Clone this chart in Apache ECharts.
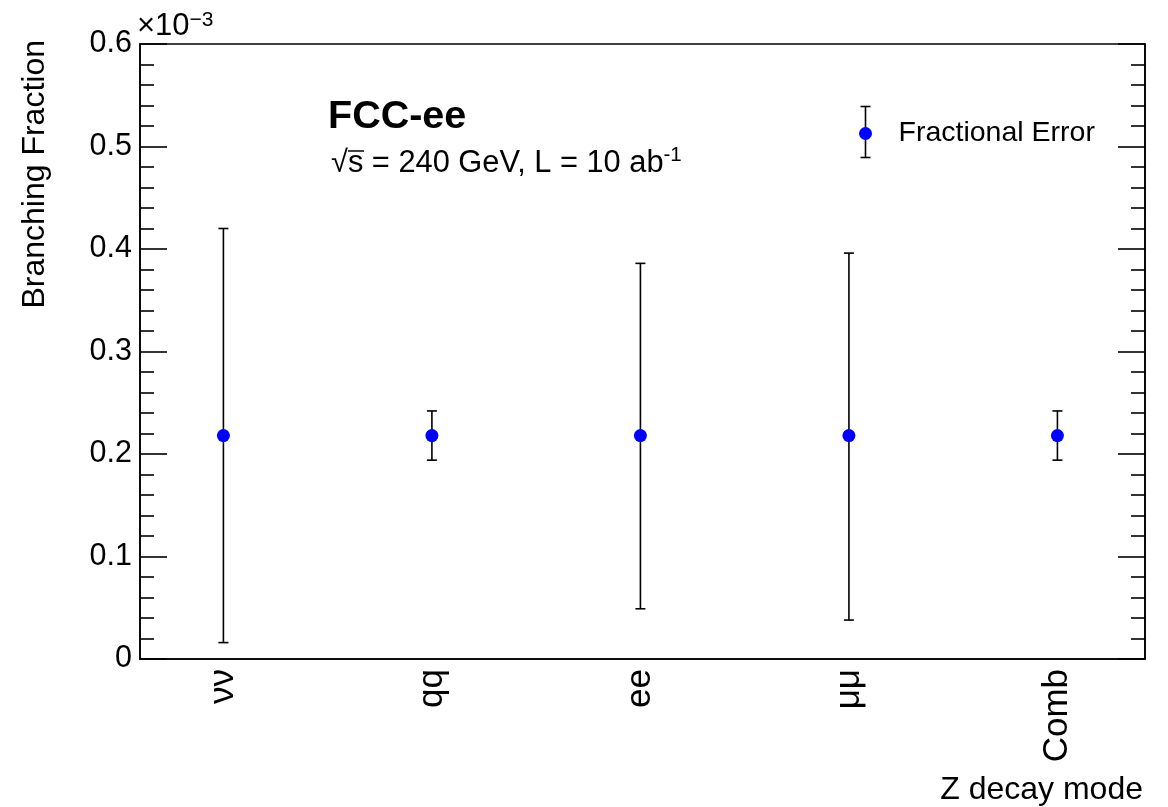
<!DOCTYPE html>
<html>
<head>
<meta charset="utf-8">
<script src="https://cdn.jsdelivr.net/npm/echarts@6/dist/echarts.min.js"></script>
<style>
html,body{margin:0;padding:0;background:#fff;}
#chart{width:1168px;height:807px;}
</style>
</head>
<body>
<div id="chart"></div>
<script>
// Data (values in units of 1e-3)
var categories = ['νν', 'qq', 'ee', 'μμ', 'Comb'];
var central = [0.218, 0.218, 0.218, 0.218, 0.218];
var upper = [0.420, 0.242, 0.386, 0.396, 0.242];
var lower = [0.016, 0.194, 0.049, 0.038, 0.194];
var yTicks = [0, 0.1, 0.2, 0.3, 0.4, 0.5, 0.6];

var FONT = '"Liberation Sans", Arial, Helvetica, sans-serif';

var chart = echarts.init(document.getElementById('chart'), null, {renderer: 'canvas'});

var pointData = central.map(function (v, i) { return [i, v]; });
var errData = central.map(function (v, i) { return [i, lower[i], upper[i]]; });

function renderErr(params, api) {
  var i = api.value(0);
  var lo = api.coord([i, api.value(1)]);
  var hi = api.coord([i, api.value(2)]);
  var cap = 5;
  var st = {stroke: '#000', lineWidth: 1.6};
  return {
    type: 'group',
    children: [
      {type: 'line', shape: {x1: lo[0], y1: lo[1], x2: hi[0], y2: hi[1]}, style: st},
      {type: 'line', shape: {x1: lo[0] - cap, y1: lo[1], x2: lo[0] + cap, y2: lo[1]}, style: st},
      {type: 'line', shape: {x1: hi[0] - cap, y1: hi[1], x2: hi[0] + cap, y2: hi[1]}, style: st}
    ]
  };
}

var yAxisCommon = {
  type: 'value',
  min: yTicks[0],
  max: yTicks[yTicks.length - 1],
  interval: 0.1,
  splitLine: {show: false},
  axisLine: {show: true, onZero: false, lineStyle: {color: '#000', width: 1.6}},
  axisTick: {show: true, inside: true, length: 27, lineStyle: {color: '#000', width: 1.6}},
  minorTick: {show: true, splitNumber: 5, length: 14, lineStyle: {color: '#000', width: 1.6}},
  minorSplitLine: {show: false}
};

var option = {
  backgroundColor: '#fff',
  animation: false,
  grid: {left: 140, right: 23, top: 44, bottom: 148, show: true, borderColor: '#000', borderWidth: 1.6, backgroundColor: 'transparent'},
  xAxis: {
    type: 'value',
    min: -0.40,
    max: 4.42,
    splitLine: {show: false},
    axisLine: {show: true, onZero: false, lineStyle: {color: '#000', width: 1.6}},
    axisTick: {show: false},
    axisLabel: {
      customValues: [0, 1, 2, 3, 4],
      rotate: 90,
      margin: 10,
      color: '#000',
      fontFamily: FONT,
      fontSize: 35,
      formatter: function (v) { return categories[Math.round(v)]; }
    }
  },
  yAxis: [
    Object.assign({}, yAxisCommon, {
      position: 'left',
      axisLabel: {
        color: '#000', fontFamily: FONT, fontSize: 30.5, margin: 8,
        formatter: function (v) { return v === 0 ? '0' : v.toFixed(1); }
      }
    }),
    Object.assign({}, yAxisCommon, {
      position: 'right',
      axisLabel: {show: false}
    })
  ],
  series: [
    {
      type: 'custom',
      renderItem: renderErr,
      data: errData,
      encode: {x: 0, y: [1, 2]},
      z: 2
    },
    {
      type: 'scatter',
      data: pointData,
      symbol: 'circle',
      symbolSize: 13,
      itemStyle: {color: '#0000ff', opacity: 1},
      z: 3
    }
  ],
  graphic: [
    // exponent label
    {
      type: 'text', left: 137, top: 10,
      style: {
        text: '{b|×10}{s|−3}',
        rich: {
          b: {fontFamily: FONT, fontSize: 31, fill: '#000', verticalAlign: 'bottom', lineHeight: 32},
          s: {fontFamily: FONT, fontSize: 21, fill: '#000', verticalAlign: 'top', lineHeight: 32, padding: [0, 0, 16, 0]}
        }
      }
    },
    // y axis title
    {
      type: 'text', x: 35, y: 40, rotation: Math.PI / 2,
      style: {text: 'Branching Fraction', fontFamily: FONT, fontSize: 32, fill: '#000', align: 'right', verticalAlign: 'middle'}
    },
    // x axis title
    {
      type: 'text', x: 1143, y: 790,
      style: {text: 'Z decay mode', fontFamily: FONT, fontSize: 32, fill: '#000', align: 'right', verticalAlign: 'middle'}
    },
    // FCC-ee
    {
      type: 'text', x: 328, y: 117,
      style: {text: 'FCC-ee', fontFamily: FONT, fontSize: 39.5, fontWeight: 'bold', fill: '#000', align: 'left', verticalAlign: 'middle'}
    },
    // sqrt(s) line
    {
      type: 'text', x: 331, y: 145,
      style: {
        text: '{r|√}{o|s}{t| = 240 GeV, L = 10 ab}{s|-1}',
        rich: {
          r: {fontFamily: FONT, fontSize: 30.8, fill: '#000', lineHeight: 38},
          o: {fontFamily: FONT, fontSize: 30.8, fill: '#000', lineHeight: 38},
          t: {fontFamily: FONT, fontSize: 30.8, fill: '#000', lineHeight: 38},
          s: {fontFamily: FONT, fontSize: 20.5, fill: '#000', lineHeight: 38, verticalAlign: 'top', padding: [0, 0, 18, 0]}
        }
      }
    },
    // overline over s
    {
      type: 'line', shape: {x1: 348, y1: 151, x2: 364, y2: 151}, style: {stroke: '#000', lineWidth: 1.5}
    },
    // legend
    {
      type: 'group', left: 858, top: 104,
      children: [
        {type: 'line', shape: {x1: 7, y1: 0, x2: 7, y2: 51}, style: {stroke: '#000', lineWidth: 1.6}},
        {type: 'line', shape: {x1: 2, y1: 0, x2: 12, y2: 0}, style: {stroke: '#000', lineWidth: 1.6}},
        {type: 'line', shape: {x1: 2, y1: 51, x2: 12, y2: 51}, style: {stroke: '#000', lineWidth: 1.6}},
        {type: 'circle', shape: {cx: 7, cy: 27, r: 6.5}, style: {fill: '#0000ff'}},
        {type: 'text', x: 40, y: 27, style: {text: 'Fractional Error', fontFamily: FONT, fontSize: 28.5, fill: '#000', align: 'left', verticalAlign: 'middle'}}
      ]
    }
  ]
};

chart.setOption(option);
</script>
</body>
</html>
